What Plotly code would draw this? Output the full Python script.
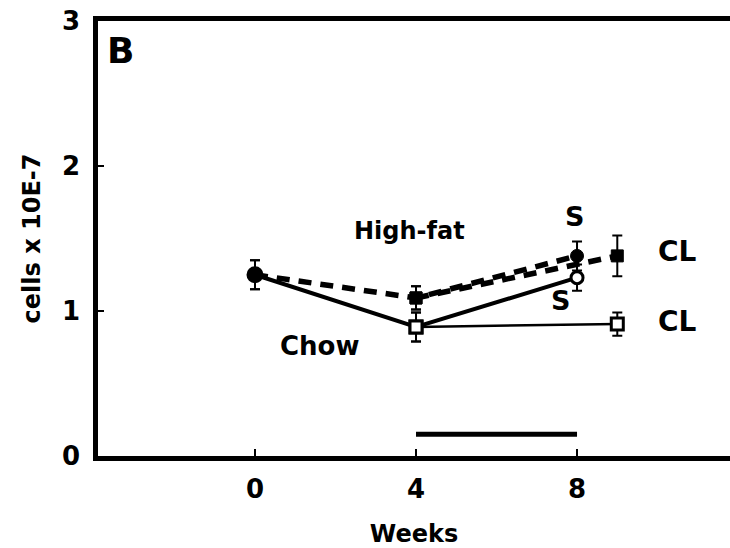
import plotly.graph_objects as go

# Data
weeks_hf_s = [0, 4, 8]
cells_hf_s = [1.25, 1.09, 1.38]
err_hf_s = [0.10, 0.08, 0.10]

weeks_hf_cl = [4, 9]
cells_hf_cl = [1.09, 1.38]
err_hf_cl = [0.08, 0.14]

weeks_chow_s = [0, 4, 8]
cells_chow_s = [1.25, 0.89, 1.23]
err_chow_s = [0.10, 0.10, 0.09]

weeks_chow_cl = [4, 9]
cells_chow_cl = [0.89, 0.91]
err_chow_cl = [0.10, 0.08]

bar_weeks = [4, 8]
bar_level = [0.15, 0.15]

x_ticks = [0, 4, 8]
y_ticks = [0, 1, 2, 3]

FONT = "DejaVu Sans, Liberation Sans, Arial, sans-serif"

fig = go.Figure()

# Chow CL (thin solid)
fig.add_trace(go.Scatter(
    x=weeks_chow_cl, y=cells_chow_cl, mode="lines+markers",
    line=dict(color="black", width=2.5),
    marker=dict(symbol="square", size=12, color="white", opacity=1,
                line=dict(color="black", width=3)),
    error_y=dict(type="data", array=err_chow_cl, color="black", thickness=2, width=5),
    showlegend=False))

# High-fat CL (dashed)
fig.add_trace(go.Scatter(
    x=weeks_hf_cl, y=cells_hf_cl, mode="lines+markers",
    line=dict(color="black", width=5.5, dash="13px,9px"),
    marker=dict(symbol="square", size=12, color="black", opacity=1,
                line=dict(color="black", width=1)),
    error_y=dict(type="data", array=err_hf_cl, color="black", thickness=2, width=5),
    showlegend=False))

# High-fat S (dashed thick)
fig.add_trace(go.Scatter(
    x=weeks_hf_s, y=cells_hf_s, mode="lines+markers",
    line=dict(color="black", width=5.5, dash="13px,9px"),
    marker=dict(symbol=["circle", "square", "circle"], size=[14, 12, 13], color="black",
                opacity=1, line=dict(color="black", width=1)),
    error_y=dict(type="data", array=err_hf_s, color="black", thickness=2, width=5),
    showlegend=False))

# Chow S (solid thick)
fig.add_trace(go.Scatter(
    x=weeks_chow_s, y=cells_chow_s, mode="lines+markers",
    line=dict(color="black", width=4),
    marker=dict(symbol=["circle", "square", "circle"], size=[14, 12, 12], opacity=1,
                color=["black", "white", "white"], line=dict(color="black", width=3)),
    error_y=dict(type="data", array=err_chow_s, color="black", thickness=2, width=5),
    showlegend=False))

# Treatment bar
fig.add_trace(go.Scatter(
    x=bar_weeks, y=bar_level, mode="lines",
    line=dict(color="black", width=5), showlegend=False))

def label(text, x, y, size=24):
    fig.add_annotation(x=x, y=y, text="<b>%s</b>" % text, showarrow=False,
                       font=dict(family=FONT, size=size, color="black"))

label("B", -3.35, 2.8, 36)
label("High-fat", 3.85, 1.55, 24)
label("Chow", 1.6, 0.76, 26)
label("S", 7.93, 1.65, 27)
label("S", 7.6, 1.07, 27)
label("CL", 10.5, 1.41, 28)
label("CL", 10.5, 0.93, 28)

fig.update_layout(
    width=730, height=548,
    margin=dict(l=98, r=0, t=21, b=92),
    plot_bgcolor="white", paper_bgcolor="white",
    font=dict(family=FONT, color="black"),
    xaxis=dict(range=[-3.9, 11.8], tickvals=x_ticks, ticktext=[str(v) for v in x_ticks],
               showgrid=False, zeroline=False, showline=True, linecolor="black", linewidth=4.5,
               mirror=True, ticks="inside", ticklen=7, tickwidth=2, tickcolor="black",
               tickfont=dict(size=26, family=FONT, weight="bold"),
               ticklabelstandoff=6,
               title=dict(text="<b>Weeks</b>", font=dict(size=24, family=FONT), standoff=24)),
    yaxis=dict(range=[0, 3], tickvals=y_ticks, ticktext=[str(v) for v in y_ticks],
               showgrid=False, zeroline=False, showline=True, linecolor="black", linewidth=4.5,
               ticks="inside", ticklen=6, tickwidth=2, tickcolor="black",
               tickfont=dict(size=26, family=FONT, weight="bold"),
               ticklabelstandoff=8,
               title=dict(text="<b>cells x 10E-7</b>", font=dict(size=24, family=FONT), standoff=16)),
)

fig.write_html("out.html")
